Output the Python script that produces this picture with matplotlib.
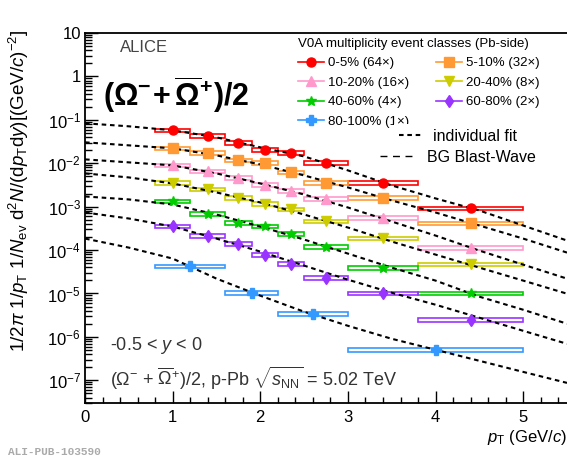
import matplotlib
matplotlib.use('Agg')
import matplotlib.pyplot as plt
from matplotlib.patches import Rectangle
from matplotlib.lines import Line2D
from matplotlib.ticker import LogLocator, MultipleLocator, FuncFormatter, NullFormatter
import numpy as np

plt.rcParams['font.family'] = ['Liberation Sans', 'DejaVu Sans']
plt.rcParams['mathtext.fontset'] = 'custom'
plt.rcParams['mathtext.rm'] = 'Liberation Sans'
plt.rcParams['mathtext.it'] = 'Liberation Sans:italic'
plt.rcParams['mathtext.bf'] = 'Liberation Sans:bold'

# --- data ---
classes = ['0-5% (64×)', '5-10% (32×)', '10-20% (16×)', '20-40% (8×)',
           '40-60% (4×)', '60-80% (2×)', '80-100% (1×)']
colors = ['#ff0000', '#ff9933', '#ff99cc', '#cccc00', '#00cc00', '#9933ff', '#3399ff']
markers = ['o', 's', '^', 'v', '*', 'd', 'P']
msizes = [6.5, 6.5, 6.5, 6.5, 7.5, 6, 7]

pt_lo = [0.8, 1.2, 1.6, 1.9, 2.2, 2.5, 3.0, 3.8]
pt_hi = [1.2, 1.6, 1.9, 2.2, 2.5, 3.0, 3.8, 5.0]
pt_lo_80_100 = [0.8, 1.6, 2.2, 3.0]
pt_hi_80_100 = [1.6, 2.2, 3.0, 5.0]

yield_0_5 = [0.057, 0.042, 0.030, 0.020, 0.017, 0.010, 0.0036, 0.00091]
yield_5_10 = [0.022, 0.017, 0.0117, 0.010, 0.0062, 0.0036, 0.0016, 0.00041]
yield_10_20 = [0.0089, 0.0065, 0.0047, 0.0032, 0.0023, 0.0015, 0.00056, 0.000114]
yield_20_40 = [0.0036, 0.0025, 0.0016, 0.00117, 0.00087, 0.00046, 0.000185, 4.7e-5]
yield_40_60 = [0.00132, 0.00069, 0.00043, 0.00035, 0.00024, 0.00012, 3.9e-5, 1.0e-5]
yield_60_80 = [0.00035, 0.00021, 0.000141, 7.9e-5, 4.9e-5, 2.3e-5, 1.0e-5, 2.5e-6]
yield_80_100 = [4.2e-5, 1.05e-5, 3.4e-6, 5.0e-7]
sys_frac = 0.10

fit_pt = [0.0, 0.5, 1.0, 1.5, 2.0, 2.5, 3.0, 3.5, 4.0, 4.5, 5.0, 5.5]
fit_0_5 = [0.0834, 0.0711, 0.0575, 0.0396, 0.0233, 0.0144, 0.00686, 0.00309,
           0.00155, 0.000817, 0.000368, 0.000166]
fit_5_10 = [0.0304, 0.0259, 0.0221, 0.0152, 0.00943, 0.00525, 0.00278, 0.00139,
            0.000735, 0.000368, 0.000184, 8.76e-5]
fit_10_20 = [0.0123, 0.0105, 0.00894, 0.00584, 0.00343, 0.00191, 0.000958, 0.000455,
             0.000216, 9.73e-5, 4.62e-5, 2.20e-5]
fit_20_40 = [0.00584, 0.00472, 0.00343, 0.00213, 0.00125, 0.000660, 0.000331, 0.000157,
             7.87e-5, 3.94e-5, 1.98e-5, 9.89e-6]
fit_40_60 = [0.00172, 0.00147, 0.00112, 0.000660, 0.000349, 0.000175, 8.30e-5, 3.94e-5,
             1.98e-5, 8.44e-6, 4.22e-6, 2.01e-6]
fit_60_80 = [0.000735, 0.000534, 0.000349, 0.000184, 9.23e-5, 4.39e-5, 2.08e-5, 1.04e-5,
             5.51e-6, 2.76e-6, 1.38e-6, 6.93e-7]
fit_80_100 = [0.000184, 0.000114, 6.37e-5, 2.20e-5, 8.90e-6, 3.80e-6, 1.80e-6, 9.04e-7,
              5.04e-7, 2.81e-7, 1.56e-7, 8.71e-8]

yields = [yield_0_5, yield_5_10, yield_10_20, yield_20_40, yield_40_60, yield_60_80, yield_80_100]
fits = [fit_0_5, fit_5_10, fit_10_20, fit_20_40, fit_40_60, fit_60_80, fit_80_100]

fig = plt.figure(figsize=(5.67, 4.70), dpi=100)
ax = fig.add_axes([0.150, 0.1426, 0.850, 0.787])

for i, (vals, fit) in enumerate(zip(yields, fits)):
    lo = pt_lo_80_100 if i == 6 else pt_lo
    hi = pt_hi_80_100 if i == 6 else pt_hi
    x = [(a + b) / 2 for a, b in zip(lo, hi)]
    # systematic boxes
    for a, b, v in zip(lo, hi, vals):
        ax.add_patch(Rectangle((a, v * (1 - sys_frac)), b - a, 2 * sys_frac * v,
                               facecolor='none', edgecolor=colors[i], lw=1.2, zorder=2))
    ax.plot(fit_pt, fit, color='black', lw=1.5, ls=(0, (2.2, 1.8)), zorder=3)
    ax.plot(x, vals, ls='none', marker=markers[i], ms=msizes[i], color=colors[i],
            mec=colors[i], zorder=4)

ax.set_yscale('log')
ax.set_xlim(0, 5.5)
ax.set_ylim(3e-8, 10)

ax.xaxis.set_major_locator(MultipleLocator(1))
ax.xaxis.set_minor_locator(MultipleLocator(0.2))
ax.yaxis.set_major_locator(LogLocator(base=10, numticks=20))
ax.yaxis.set_minor_locator(LogLocator(base=10, subs=np.arange(2, 10), numticks=20))
ax.yaxis.set_minor_formatter(NullFormatter())


def log_label(v, pos):
    e = int(round(np.log10(v)))
    if e == 1:
        return '10'
    if e == 0:
        return '1'
    return r'$10^{%d}$' % e


ax.yaxis.set_major_formatter(FuncFormatter(log_label))
ax.tick_params(axis='both', which='both', direction='in', top=False, right=False,
               labelsize=12, width=1)
ax.tick_params(axis='x', which='major', length=8.5, pad=5)
ax.tick_params(axis='x', which='minor', length=4)
ax.tick_params(axis='y', which='major', length=9, pad=3)
ax.tick_params(axis='y', which='minor', length=5)
ax.spines['right'].set_visible(False)
for s in ['left', 'bottom', 'top']:
    ax.spines[s].set_linewidth(1.3)

ax.set_xlabel(r'$p_{\rm T}$ (GeV/$c$)', fontsize=12, loc='right')
ax.xaxis.set_label_coords(1.0, -0.068)
ax.set_ylabel(r'1/2$\pi$ 1/$p_{\rm T}$ 1/$N_{\rm ev}$ d$^{2}$$N$/(d$p_{\rm T}$d$y$)[(GeV/$c$)$^{-2}$]',
              fontsize=13.5, loc='top')
ax.yaxis.set_label_coords(-0.112, 1.01)

# legend of centrality classes (ROOT fills row-wise)
handles = [Line2D([], [], color=colors[i], marker=markers[i], ms=msizes[i], lw=1.2)
           for i in range(len(classes))]
order = [0, 2, 4, 6, 1, 3, 5]
leg1 = ax.legend([handles[i] for i in order], [classes[i] for i in order], ncol=2,
                 loc='upper left', bbox_to_anchor=(298 / 567, 1 - 38 / 470),
                 bbox_transform=fig.transFigure, frameon=False, fontsize=9.5,
                 title='V0A multiplicity event classes (Pb-side)', title_fontsize=9.5,
                 alignment='left', handlelength=2.0, handletextpad=0.3,
                 columnspacing=2.0, labelspacing=0.55, borderpad=0, borderaxespad=0)
ax.add_artist(leg1)

leg2 = ax.legend([Line2D([], [], color='black', lw=1.5, ls=(0, (2.2, 1.8)))], ['individual fit'],
                 loc='upper left', bbox_to_anchor=(394 / 567, 1 - 124 / 470),
                 bbox_transform=fig.transFigure, frameon=True, facecolor='white',
                 edgecolor='none', framealpha=1, fancybox=False, fontsize=11.5,
                 handlelength=1.6, handletextpad=0.55, borderpad=0.3, borderaxespad=0)
ax.add_artist(leg2)

leg3 = ax.legend([Line2D([], [], color='black', lw=1.0, ls=(0, (5, 4)))], ['BG Blast-Wave'],
                 loc='upper left', bbox_to_anchor=(380 / 567, 1 - 150 / 470),
                 bbox_transform=fig.transFigure, frameon=False, fontsize=11.5,
                 handlelength=2.2, handletextpad=0.75, borderpad=0, borderaxespad=0)

fig.text(120 / 567, 1 - 47 / 470, 'ALICE', fontsize=12, color='#444444', va='center')
fig.text(103 / 567, 1 - 95 / 470, r'$\mathbf{(\Omega^{-}\!+\overline{\Omega}^{+})/2}$',
         fontsize=22, va='center')
fig.text(110 / 567, 1 - 345 / 470, r'-0.5 < $y$ < 0', fontsize=13, color='#333333', va='center')
fig.text(110 / 567, 1 - 378 / 470,
         r'($\Omega^{-}$ + $\overline{\Omega}^{+}$)/2, p-Pb $\sqrt{s_{\rm NN}}$ = 5.02 TeV',
         fontsize=13, color='#333333', va='center')
fig.text(8 / 567, 1 - 452 / 470, 'ALI-PUB-103590', fontsize=8, color='#aaaaaa',
         family='Liberation Mono', weight='bold', va='center')

fig.savefig('out.png', dpi=100)
